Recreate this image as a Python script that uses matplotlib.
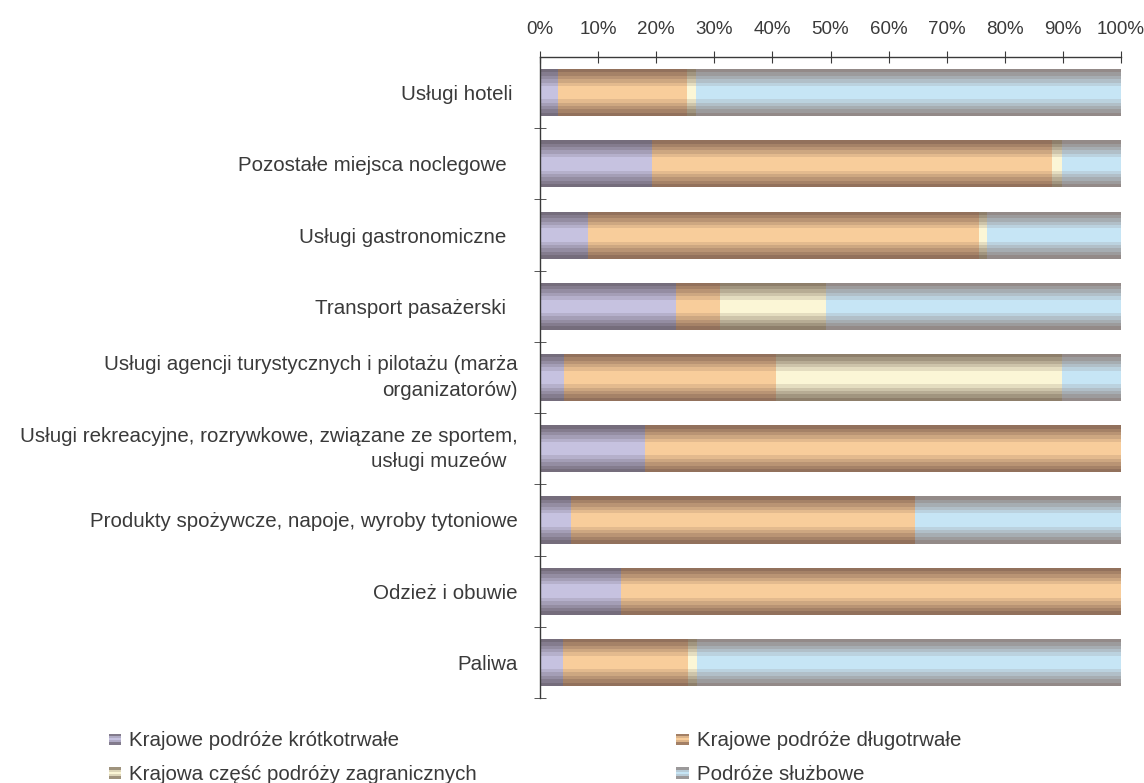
import numpy as np
import matplotlib
matplotlib.use('Agg')
import matplotlib.pyplot as plt
import matplotlib.transforms as mtransforms
from matplotlib.patches import Rectangle
from matplotlib.legend_handler import HandlerBase
from matplotlib.colors import to_rgb

plt.rcParams['font.family'] = ['Liberation Sans', 'DejaVu Sans']

# dane (udział w %)
categories = ['Usługi hoteli ',
              'Pozostałe miejsca noclegowe  ',
              'Usługi gastronomiczne  ',
              'Transport pasażerski  ',
              'Usługi agencji turystycznych i pilotażu (marża\norganizatorów)',
              'Usługi rekreacyjne, rozrywkowe, związane ze sportem,\nusługi muzeów  ',
              'Produkty spożywcze, napoje, wyroby tytoniowe',
              'Odzież i obuwie',
              'Paliwa']
short_trips = [3.1, 19.3, 8.3, 23.4, 4.1, 18.1, 5.3, 14.0, 3.9]
long_trips = [22.2, 68.8, 67.3, 7.6, 36.5, 81.9, 59.2, 86.0, 21.6]
foreign_part = [1.5, 1.7, 1.4, 18.2, 49.2, 0.0, 0.0, 0.0, 1.5]
business = [73.2, 10.2, 23.0, 50.8, 10.2, 0.0, 35.5, 0.0, 73.0]

series_names = ['Krajowe podróże krótkotrwałe', 'Krajowe podróże długotrwałe',
                'Krajowa część podróży zagranicznych', 'Podróże służbowe']
series = [short_trips, long_trips, foreign_part, business]
# (kolor środka, kolor krawędzi) - cieniowanie "walca"
colors = [('#c6c2e0', '#6f6674'),
          ('#f8cd9b', '#8a6a57'),
          ('#fbf6d6', '#857663'),
          ('#c6e5f5', '#8f8380')]

text_col = '#3a3a3a'
fs = 14.8
n_stripes = 14
bar_h = 0.66


def shade(center, edge, u):
    f = np.clip((1 - abs(2 * u - 1)) / 0.78, 0, 1) ** 1.1
    c = np.array(to_rgb(center))
    e = np.array(to_rgb(edge))
    return tuple(e + (c - e) * f)


fig = plt.figure(figsize=(11.44, 7.83), dpi=100)
ax = fig.add_axes([540 / 1144, 1 - 698 / 783, 581 / 1144, 641 / 783])

y = np.arange(len(categories))
left = np.zeros(len(categories))
for vals, (c_mid, c_edge) in zip(series, colors):
    vals = np.array(vals)
    for k in range(n_stripes):
        u = (k + 0.5) / n_stripes
        off = -bar_h / 2 + k * bar_h / n_stripes
        ax.barh(y + off, vals, left=left, height=bar_h / n_stripes * 1.02,
                align='edge', color=shade(c_mid, c_edge, u), linewidth=0)
    left += vals

ax.set_xlim(0, 100)
ax.set_ylim(len(categories) - 0.5, -0.5)
ax.xaxis.tick_top()
ax.set_xticks(np.arange(0, 101, 10))
ax.set_xticklabels([f'{v}%' for v in range(0, 101, 10)])
ax.tick_params(axis='x', direction='inout', length=8, color=text_col,
               labelsize=13.5, labelcolor=text_col, pad=10)

ax.set_yticks(y)
ax.set_yticklabels(categories, linespacing=1.45)
ax.set_yticks(np.arange(0.5, len(categories), 1), minor=True)
ax.tick_params(axis='y', which='major', length=0, pad=16,
               labelsize=fs, labelcolor=text_col)
ax.tick_params(axis='y', which='minor', direction='inout', length=8, color=text_col)

# etykiety dwuwierszowe lekko w górę
shift = mtransforms.ScaledTranslation(0, 5 / 100, fig.dpi_scale_trans)
for lbl in ax.get_yticklabels():
    if '\n' in lbl.get_text():
        lbl.set_transform(lbl.get_transform() + shift)

for s in ['right', 'bottom']:
    ax.spines[s].set_visible(False)
for s in ['top', 'left']:
    ax.spines[s].set_color(text_col)
    ax.spines[s].set_linewidth(1.0)


class StripeHandler(HandlerBase):
    def create_artists(self, legend, orig_handle, xdescent, ydescent,
                       width, height, fontsize, trans):
        c_mid, c_edge = orig_handle
        arts = []
        n = 5
        for k in range(n):
            u = (k + 0.5) / n
            r = Rectangle((-xdescent, -ydescent + k * height / n), width, height / n,
                          facecolor=shade(c_mid, c_edge, u), linewidth=0,
                          transform=trans)
            arts.append(r)
        return arts


order = [0, 2, 1, 3]
handles = [colors[i] for i in order]
labels = [series_names[i] for i in order]
leg = fig.legend(handles, labels, handler_map={tuple: StripeHandler()},
                 ncol=2, loc='upper left', bbox_to_anchor=(90 / 1144, 1 - 713 / 783),
                 frameon=False, fontsize=fs, handlelength=0.6, handleheight=0.45,
                 handletextpad=0.4, columnspacing=9.7, labelspacing=0.72,
                 labelcolor=text_col)

fig.savefig('out.png', dpi=100)
